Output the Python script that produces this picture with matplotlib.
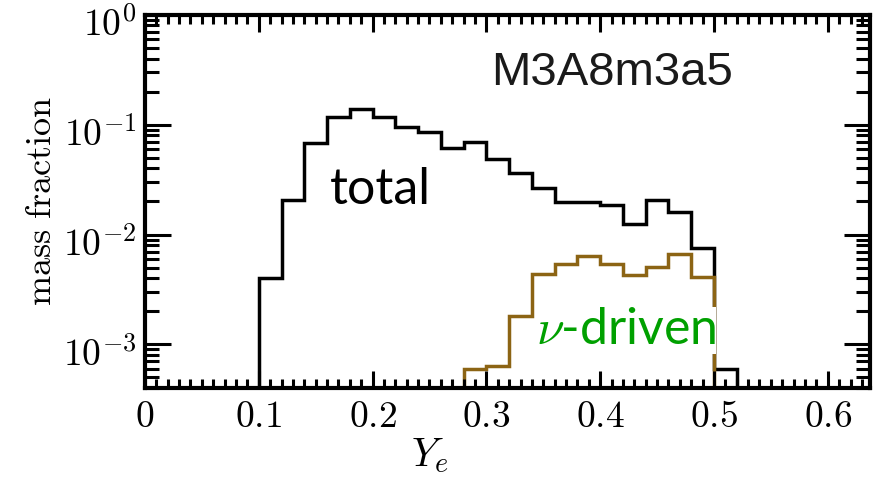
import numpy as np
import matplotlib
matplotlib.use('Agg')
import matplotlib.pyplot as plt
from matplotlib.ticker import MultipleLocator, FixedLocator, FuncFormatter, LogLocator, NullFormatter
from matplotlib.transforms import ScaledTranslation

plt.rcParams['mathtext.fontset'] = 'cm'

# Ye histogram (bin width 0.02)
total_edges = np.round(np.arange(0.10, 0.5201, 0.02), 2)
total_frac = [0.0040, 0.0205, 0.068, 0.118, 0.140, 0.118, 0.096, 0.086, 0.0615,
              0.070, 0.049, 0.0363, 0.0264, 0.0197, 0.0197, 0.0185, 0.0124,
              0.0205, 0.0159, 0.0076, 0.00060]

nu_edges = np.round(np.arange(0.28, 0.5001, 0.02), 2)
nu_frac = [0.00060, 0.00063, 0.0018, 0.0044, 0.0054, 0.0064, 0.0054, 0.0043,
           0.0051, 0.0067, 0.0041]

fig = plt.figure(figsize=(8.84, 4.78), dpi=100)
ax = fig.add_axes([0.164, 0.188, 0.820, 0.781])

ax.stairs(total_frac, total_edges, baseline=1e-6, color='black', lw=2.5)
ax.stairs(nu_frac, nu_edges, baseline=1e-6, color='#8c6414', lw=2.5)

ax.set_yscale('log')
ax.set_xlim(0, 0.637)
ax.set_ylim(4e-4, 1.0)

# ticks on all four sides, pointing inward
ax.xaxis.set_major_locator(MultipleLocator(0.1))
ax.xaxis.set_minor_locator(MultipleLocator(0.01))
ax.yaxis.set_major_locator(FixedLocator([1e-3, 1e-2, 1e-1, 1e0]))
ax.yaxis.set_minor_locator(LogLocator(base=10, subs=np.arange(2, 10), numticks=20))
ax.yaxis.set_minor_formatter(NullFormatter())
ax.xaxis.set_major_formatter(FuncFormatter(lambda v, p: r'$%g$' % round(v, 2)))
ax.yaxis.set_major_formatter(FuncFormatter(lambda v, p: r'$10^{%d}$' % round(np.log10(v))))

ax.tick_params(axis='both', which='both', direction='in', top=True, right=True,
               labelsize=27, width=2.2)
ax.tick_params(axis='x', which='major', length=12, pad=8)
ax.tick_params(axis='x', which='minor', length=6.5)
ax.tick_params(axis='y', which='major', length=19, pad=6)
ax.tick_params(axis='y', which='minor', length=10)
for s in ax.spines.values():
    s.set_linewidth(3)

# nudge the power-of-ten labels down a little
shift = ScaledTranslation(0, -5 / 72, fig.dpi_scale_trans)
for lbl in ax.get_yticklabels():
    lbl.set_transform(lbl.get_transform() + shift)

ax.set_ylabel(r'$\mathrm{mass\ fraction}$', fontsize=26, labelpad=4)
ax.set_xlabel(r'$Y_e$', fontsize=29)
ax.xaxis.set_label_coords(0.393, -0.125)

ax.text(0.644, 0.845, 'M3A8m3a5', transform=ax.transAxes, fontsize=34,
        family='Liberation Sans', color='#1a1a1a', ha='center', va='center')
ax.text(0.255, 0.53, 'total', transform=ax.transAxes, fontsize=36,
        family='Lato', color='black', ha='left', va='center')
ax.text(0.539, 0.155, r'$\nu$-driven', transform=ax.transAxes, fontsize=36,
        family='Lato', color='#00a000', ha='left', va='center',
        bbox=dict(facecolor='white', edgecolor='none', pad=0.5))

fig.savefig('out.png', dpi=100)
